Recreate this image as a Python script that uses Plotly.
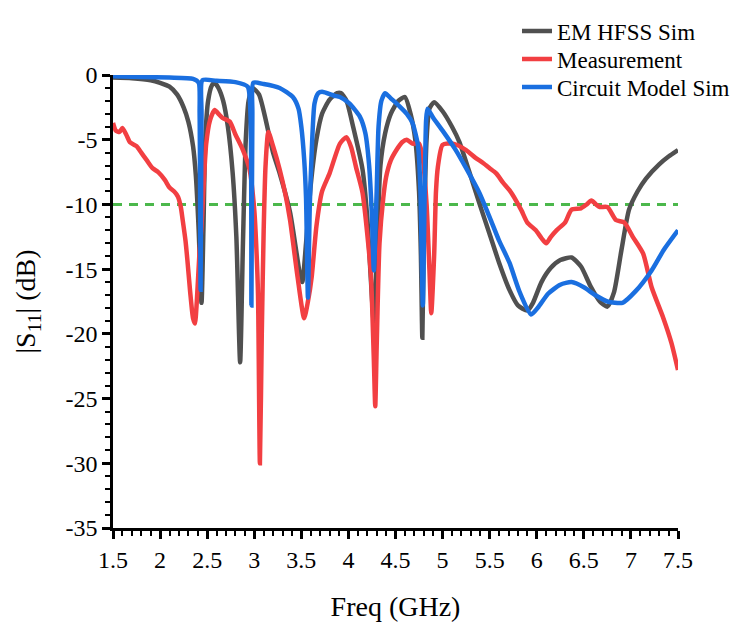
import plotly.graph_objects as go

# EM HFSS simulation
hfss_f = [1.50, 1.70, 1.90, 2.00, 2.10, 2.18, 2.25, 2.30, 2.35, 2.38, 2.41, 2.44, 2.46, 2.48, 2.51, 2.55,
          2.58, 2.62, 2.67, 2.72, 2.77, 2.81, 2.85, 2.88, 2.91, 2.94, 2.98, 3.05, 3.20, 3.27, 3.38, 3.45,
          3.49, 3.51, 3.55, 3.60, 3.66, 3.72, 3.80, 3.88, 3.92, 3.98, 4.05, 4.15, 4.20, 4.24, 4.27, 4.30,
          4.34, 4.39, 4.45, 4.53, 4.60, 4.66, 4.71, 4.75, 4.77, 4.785, 4.80, 4.83, 4.86, 4.91, 5.00, 5.10,
          5.18, 5.28, 5.39, 5.50, 5.60, 5.71, 5.80, 5.90, 5.96, 6.05, 6.15, 6.25, 6.37, 6.47, 6.57, 6.67,
          6.75, 6.82, 6.90, 6.98, 7.07, 7.16, 7.30, 7.40, 7.50]
hfss_db = [-0.2, -0.25, -0.4, -0.6, -0.9, -1.5, -2.5, -3.6, -5.5, -7.8, -12.0, -17.6, -12.0, -5.0, -2.0, -0.8,
           -0.6, -1.0, -2.0, -4.0, -7.5, -12.5, -22.2, -13.0, -5.0, -2.0, -1.0, -1.5, -6.0, -7.6, -10.6, -13.8,
           -15.6, -16.0, -13.0, -8.5, -5.0, -3.0, -1.9, -1.4, -1.4, -2.0, -4.0, -7.3, -11.0, -16.0, -19.2, -14.0,
           -7.0, -4.5, -3.0, -2.0, -1.7, -3.0, -5.0, -9.0, -14.0, -20.3, -13.0, -5.0, -2.6, -2.1, -2.8, -4.0,
           -5.2, -7.4, -9.9, -12.3, -14.5, -16.6, -17.8, -18.2, -17.6, -16.0, -14.9, -14.3, -14.1, -14.8, -16.3, -17.5,
           -17.9, -16.8, -13.5, -10.4, -9.0, -8.0, -6.9, -6.3, -5.8]

# Measurement
meas_f = [1.50, 1.53, 1.57, 1.60, 1.64, 1.68, 1.75, 1.80, 1.86, 1.92, 1.98, 2.05, 2.10, 2.15, 2.19, 2.22,
          2.24, 2.27, 2.29, 2.32, 2.35, 2.37, 2.39, 2.42, 2.44, 2.47, 2.49, 2.53, 2.58, 2.62, 2.66, 2.74,
          2.80, 2.88, 2.95, 3.00, 3.02, 3.04, 3.06, 3.08, 3.10, 3.12, 3.15, 3.20, 3.27, 3.33, 3.38, 3.46,
          3.53, 3.57, 3.61, 3.66, 3.72, 3.80, 3.91, 3.98, 4.03, 4.08, 4.15, 4.21, 4.24, 4.27, 4.285, 4.30,
          4.33, 4.37, 4.40, 4.45, 4.51, 4.57, 4.62, 4.68, 4.75, 4.79, 4.83, 4.86, 4.88, 4.91, 4.93, 4.95,
          5.00, 5.11, 5.25, 5.35, 5.43, 5.50, 5.57, 5.64, 5.71, 5.78, 5.84, 5.90, 5.99, 6.05, 6.10, 6.15,
          6.21, 6.30, 6.37, 6.47, 6.53, 6.58, 6.63, 6.67, 6.75, 6.84, 6.93, 7.02, 7.13, 7.22, 7.34, 7.43,
          7.50]
meas_db = [-3.7, -4.3, -4.4, -4.1, -4.6, -5.2, -5.5, -6.0, -6.6, -7.2, -7.5, -8.1, -8.7, -9.0, -9.4, -10.2,
           -11.2, -12.8, -14.3, -16.8, -18.8, -19.2, -17.5, -13.5, -11.7, -7.5, -5.3, -3.5, -2.7, -3.0, -3.3, -3.6,
           -4.6, -5.8, -7.3, -10.4, -13.0, -17.0, -30.0, -20.0, -12.0, -7.0, -4.4, -5.5, -7.3, -9.2, -11.2, -15.6,
           -18.8, -17.5, -15.6, -11.7, -9.0, -7.6, -5.3, -4.8, -5.6, -7.1, -9.1, -13.0, -15.6, -22.0, -25.6, -21.0,
           -13.0, -9.5, -7.9, -6.6, -5.8, -5.2, -5.0, -5.3, -5.3, -6.5, -10.0, -15.0, -18.4, -14.0, -9.0, -7.1,
           -5.4, -5.3, -5.8, -6.4, -6.8, -7.2, -7.6, -8.3, -8.9, -9.7, -10.5, -11.4, -12.0, -12.6, -13.0, -12.5,
           -12.0, -11.4, -10.4, -10.3, -10.0, -9.7, -10.0, -10.2, -10.2, -11.2, -11.4, -12.5, -13.8, -16.4, -18.7, -20.7,
           -22.8]

# Circuit model simulation
circ_f = [1.50, 1.80, 2.10, 2.35, 2.41, 2.42, 2.43, 2.44, 2.45, 2.60, 2.80, 2.93, 2.96, 2.97, 2.98, 2.99,
          3.10, 3.27, 3.41, 3.47, 3.50, 3.53, 3.55, 3.57, 3.59, 3.61, 3.64, 3.68, 3.72, 3.85, 3.91, 4.01,
          4.12, 4.18, 4.22, 4.25, 4.27, 4.30, 4.32, 4.35, 4.39, 4.45, 4.54, 4.62, 4.68, 4.74, 4.765, 4.79,
          4.81, 4.825, 4.84, 4.90, 5.00, 5.14, 5.25, 5.39, 5.50, 5.60, 5.71, 5.82, 5.94, 6.02, 6.12, 6.25,
          6.37, 6.50, 6.62, 6.75, 6.91, 7.05, 7.22, 7.35, 7.50]
circ_db = [-0.1, -0.15, -0.2, -0.3, -0.6, -3.0, -16.6, -3.0, -0.4, -0.45, -0.55, -0.9, -3.0, -17.8, -3.0, -0.6,
           -0.7, -1.0, -1.7, -2.6, -4.0, -6.5, -9.5, -17.2, -10.0, -6.0, -2.2, -1.4, -1.3, -1.6, -1.7, -2.2,
           -3.2, -4.5, -7.0, -11.0, -15.1, -9.0, -4.0, -2.0, -1.4, -1.8, -2.4, -3.0, -3.7, -5.5, -9.0, -17.8,
           -9.0, -3.5, -2.6, -3.3, -4.3, -5.8, -7.2, -9.1, -11.0, -12.8, -14.5, -16.8, -18.5, -17.9, -16.9, -16.2,
           -16.0, -16.4, -17.0, -17.5, -17.6, -16.7, -15.1, -13.5, -12.0]

ref_f = [1.5, 7.5]
ref_db = [-10, -10]

x_ticks = [1.5, 2, 2.5, 3, 3.5, 4, 4.5, 5, 5.5, 6, 6.5, 7, 7.5]
y_ticks = [0, -5, -10, -15, -20, -25, -30, -35]

FONT = "Liberation Serif"

fig = go.Figure()
fig.add_trace(go.Scatter(x=ref_f, y=ref_db, mode="lines", showlegend=False,
                         line=dict(color="#4CB84C", width=3, dash="9px,7px")))
fig.add_trace(go.Scatter(x=hfss_f, y=hfss_db, mode="lines", name="EM HFSS Sim", legend="legend",
                         line=dict(color="#505050", width=4.5, shape="spline", smoothing=0.6)))
fig.add_trace(go.Scatter(x=meas_f, y=meas_db, mode="lines", name="Measurement", legend="legend2",
                         line=dict(color="#F23F42", width=4.5, shape="spline", smoothing=0.6)))
fig.add_trace(go.Scatter(x=circ_f, y=circ_db, mode="lines", name="Circuit Model Sim", legend="legend3",
                         line=dict(color="#1A6FE0", width=4.5, shape="spline", smoothing=0.6)))

axis_common = dict(showline=True, linecolor="black", linewidth=2.5, showgrid=False, zeroline=False,
                   ticks="outside", ticklen=8, tickwidth=2.5, tickcolor="black",
                   tickfont=dict(family=FONT, size=24, color="black"), mirror=False)

def leg(ypix):
    return dict(x=509 / 738, xref="container", y=1 - ypix / 636, yref="container",
                xanchor="left", yanchor="middle", bgcolor="rgba(0,0,0,0)",
                font=dict(family=FONT, size=23, color="black"), itemwidth=30)

fig.update_layout(
    width=738, height=636,
    margin=dict(l=105, r=68, t=67, b=116, autoexpand=False),
    paper_bgcolor="white", plot_bgcolor="white",
    font=dict(family=FONT, color="black"),
    xaxis=dict(range=[1.5, 7.5], tickvals=x_ticks, ticktext=[str(v) for v in x_ticks],
               minor=dict(dtick=0.1, ticks="outside", ticklen=5, tickwidth=2, tickcolor="black"),
               title=dict(text="Freq (GHz)", font=dict(family=FONT, size=28), standoff=25),
               **axis_common),
    yaxis=dict(range=[-35, 0], tickvals=y_ticks, ticktext=[str(v) for v in y_ticks],
               minor=dict(dtick=1, ticks="outside", ticklen=5, tickwidth=2, tickcolor="black"),
               title=dict(text="|S<sub>11</sub>| (dB)", font=dict(family=FONT, size=28), standoff=22),
               **axis_common),
    legend=leg(23), legend2=leg(51), legend3=leg(79),
)

fig.write_html("out.html")
